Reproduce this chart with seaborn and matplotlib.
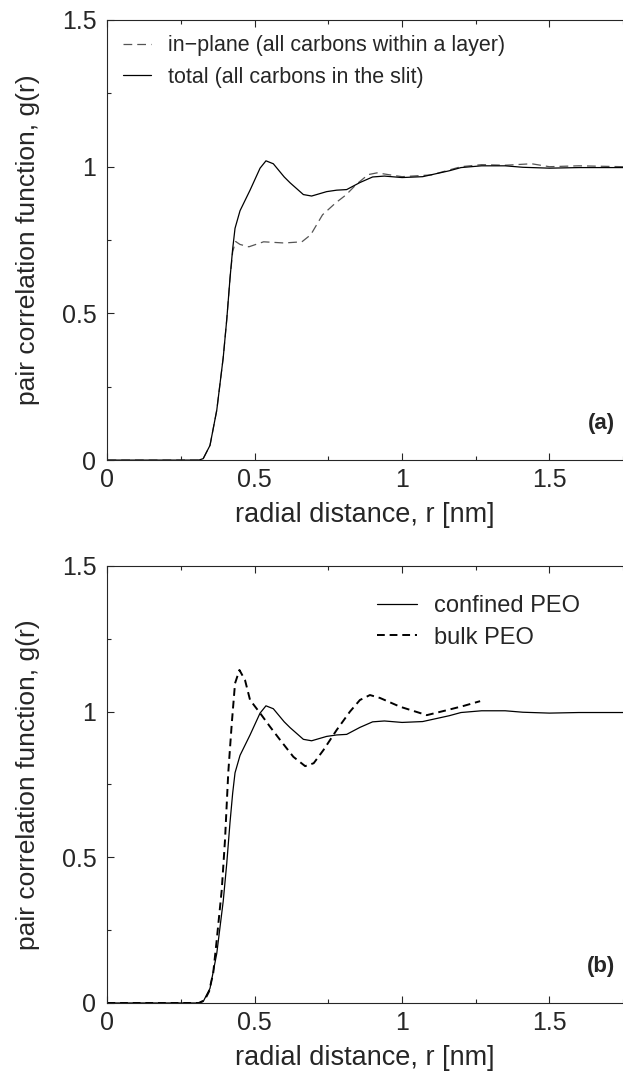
import numpy as np
import pandas as pd
import matplotlib
matplotlib.use("Agg")
import matplotlib.pyplot as plt
from matplotlib.ticker import MultipleLocator
import seaborn as sns

# ==============================================================================
# DATOS
# ==============================================================================
# curva total / PEO confinado (misma curva en ambos paneles)
r_total = [0.0, 0.20, 0.31, 0.325, 0.348, 0.371, 0.393, 0.405, 0.416, 0.425,
           0.433, 0.45, 0.484, 0.518, 0.538, 0.563, 0.60, 0.62, 0.665, 0.693,
           0.744, 0.778, 0.812, 0.857, 0.90, 0.94, 1.00, 1.07, 1.16, 1.20,
           1.27, 1.35, 1.41, 1.50, 1.60, 1.75]
g_total = [0.0, 0.0, 0.0, 0.005, 0.05, 0.17, 0.35, 0.48, 0.62, 0.72,
           0.79, 0.85, 0.92, 0.995, 1.02, 1.01, 0.965, 0.945, 0.905, 0.90,
           0.915, 0.92, 0.922, 0.946, 0.965, 0.968, 0.963, 0.966, 0.986, 0.997,
           1.003, 1.003, 0.998, 0.995, 0.997, 0.997]

# en el plano (todos los carbonos dentro de una capa)
r_plane = [0.0, 0.20, 0.31, 0.325, 0.348, 0.371, 0.393, 0.405, 0.416, 0.425,
           0.435, 0.45, 0.48, 0.53, 0.60, 0.66, 0.69, 0.73, 0.775, 0.81,
           0.845, 0.885, 0.915, 0.96, 1.00, 1.10, 1.20, 1.27, 1.35, 1.44,
           1.50, 1.60, 1.75]
g_plane = [0.0, 0.0, 0.0, 0.005, 0.05, 0.17, 0.35, 0.48, 0.62, 0.71,
           0.745, 0.735, 0.727, 0.744, 0.74, 0.744, 0.768, 0.836, 0.877, 0.904,
           0.94, 0.973, 0.979, 0.972, 0.966, 0.972, 1.0, 1.007, 1.005, 1.01,
           1.0, 1.003, 1.0]

# PEO en bulk
r_bulk = [0.0, 0.20, 0.31, 0.33, 0.345, 0.359, 0.371, 0.388, 0.399, 0.41,
          0.422, 0.433, 0.448, 0.467, 0.484, 0.518, 0.552, 0.586, 0.631, 0.671,
          0.70, 0.733, 0.778, 0.823, 0.857, 0.891, 0.925, 0.993, 1.084, 1.152,
          1.21, 1.265]
g_bulk = [0.0, 0.0, 0.0, 0.01, 0.04, 0.103, 0.217, 0.389, 0.56, 0.79,
          0.96, 1.097, 1.143, 1.108, 1.04, 0.995, 0.948, 0.903, 0.845, 0.813,
          0.823, 0.868, 0.937, 1.0, 1.04, 1.057, 1.047, 1.017, 0.988, 1.005,
          1.02, 1.036]

XLABEL = "radial distance, r [nm]"
YLABEL = "pair correlation function, g(r)"

sns.set_style("ticks")
plt.rcParams["font.family"] = ["Liberation Sans", "DejaVu Sans"]
plt.rcParams["xtick.direction"] = "in"
plt.rcParams["ytick.direction"] = "in"


def estilo_ejes(ax, etiqueta):
    ax.set_xlim(0, 1.75)
    ax.set_ylim(0, 1.5)
    ax.xaxis.set_major_locator(MultipleLocator(0.5))
    ax.xaxis.set_minor_locator(MultipleLocator(0.25))
    ax.yaxis.set_major_locator(MultipleLocator(0.5))
    ax.yaxis.set_minor_locator(MultipleLocator(0.25))
    ax.xaxis.set_major_formatter(plt.FuncFormatter(lambda v, p: f"{v:g}"))
    ax.yaxis.set_major_formatter(plt.FuncFormatter(lambda v, p: f"{v:g}"))
    ax.tick_params(which="both", top=True, right=False, labelsize=18, width=0.8)
    ax.tick_params(axis="x", pad=6)
    ax.tick_params(axis="y", pad=8)
    ax.tick_params(which="major", length=5)
    ax.tick_params(which="minor", length=3)
    ax.spines["right"].set_visible(False)
    for s in ["left", "bottom", "top"]:
        ax.spines[s].set_linewidth(0.8)
    ax.set_xlabel(XLABEL, fontsize=19.5, labelpad=7)
    ax.set_ylabel(YLABEL, fontsize=19)
    ax.yaxis.set_label_coords(-0.13, 0.5)
    ax.text(0.985, 0.06, etiqueta, transform=ax.transAxes, ha="right",
            va="bottom", fontsize=16, fontweight="bold")


fig = plt.figure(figsize=(6.23, 10.75), dpi=100)
ax1 = fig.add_axes([0.1725, 0.572, 0.8275, 0.4094])
ax2 = fig.add_axes([0.1725, 0.0670, 0.8275, 0.4065])

df_plane = pd.DataFrame({"r": r_plane, "g": g_plane})
df_total = pd.DataFrame({"r": r_total, "g": g_total})
df_bulk = pd.DataFrame({"r": r_bulk, "g": g_bulk})

# panel (a)
sns.lineplot(data=df_plane, x="r", y="g", ax=ax1, color="#555555", lw=0.9,
             linestyle=(0, (7, 4)), sort=False,
             label="in\u2212plane (all carbons within a layer)")
sns.lineplot(data=df_total, x="r", y="g", ax=ax1, color="black", lw=0.9,
             sort=False, label="total (all carbons in the slit)")
estilo_ejes(ax1, "(a)")
ax1.legend(loc="upper left", fontsize=15.5, frameon=False, handlelength=1.3,
           handletextpad=0.8, borderaxespad=0.3, labelspacing=0.5)

# panel (b)
sns.lineplot(data=df_total, x="r", y="g", ax=ax2, color="black", lw=0.9,
             sort=False, label="confined PEO")
sns.lineplot(data=df_bulk, x="r", y="g", ax=ax2, color="black", lw=1.4,
             linestyle=(0, (4, 2.5)), sort=False, label="bulk PEO")
estilo_ejes(ax2, "(b)")
ax2.legend(loc="upper left", bbox_to_anchor=(0.505, 0.955), fontsize=17,
           frameon=False, handlelength=1.7, handletextpad=0.7,
           labelspacing=0.4, borderaxespad=0.0)

fig.savefig("out.png", dpi=100)
